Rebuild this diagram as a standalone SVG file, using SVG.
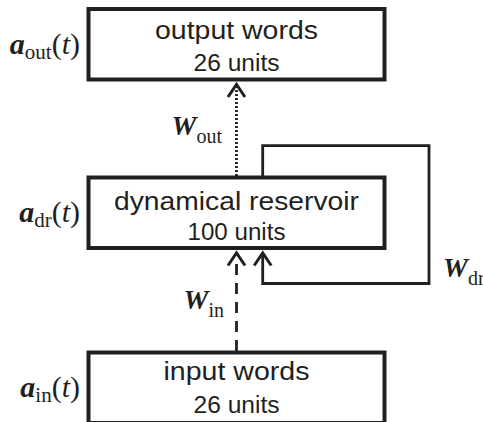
<svg xmlns="http://www.w3.org/2000/svg" width="483" height="422" viewBox="0 0 483 422">
  <style>
    .box { fill: #fff; stroke: #231f20; stroke-width: 4; }
    .title { font-family: "Liberation Sans", Arial, sans-serif; font-size: 26px; fill: #231f20; text-anchor: middle; }
    .units { font-family: "Liberation Sans", Arial, sans-serif; font-size: 23px; fill: #231f20; text-anchor: middle; }
    .math { font-family: "Liberation Serif", "Times New Roman", serif; font-size: 30px; fill: #231f20; }
    .wlab { font-size: 28px; }
    .vec { font-weight: bold; font-style: italic; }
    .it { font-style: italic; }
    .sub { font-size: 21px; }
    .wlab .sub { font-size: 20px; }
    .wire { fill: none; stroke: #231f20; stroke-width: 2.8; }
    .head { fill: none; stroke: #231f20; stroke-width: 3; stroke-linejoin: miter; }
  </style>

  <!-- connectors -->
  <g id="connectors">
    <!-- W_out: dotted readout -->
    <line class="wire" x1="236.5" y1="176" x2="236.5" y2="86" stroke-width="3" stroke-dasharray="2 2"/>
    <polyline class="head" points="228,97 236.5,84.5 245,97"/>
    <!-- W_in: dashed input -->
    <line class="wire" x1="236.5" y1="351" x2="236.5" y2="256" stroke-width="3" stroke-dasharray="11 8"/>
    <polyline class="head" points="228,265.5 236.5,253 245,265.5"/>
    <!-- W_dr: recurrent loop -->
    <path class="wire" d="M262.7,176 V145.7 H429 V283.5 H262.7 V255"/>
    <polyline class="head" points="254.2,265.5 262.7,253 271.2,265.5"/>
  </g>

  <g id="output">
    <rect class="box" x="88.5" y="9" width="296" height="70.5"/>
    <text class="title" x="236.5" y="39" textLength="163" lengthAdjust="spacingAndGlyphs">output words</text>
    <text class="units" x="236.5" y="70.5" textLength="86" lengthAdjust="spacingAndGlyphs">26 units</text>
    <text class="math" x="80" y="54" text-anchor="end"><tspan class="vec">a</tspan><tspan class="sub" dy="5">out</tspan><tspan dy="-5">(</tspan><tspan class="it">t</tspan>)</text>
  </g>

  <g id="reservoir">
    <rect class="box" x="88.5" y="177.5" width="296" height="70.5"/>
    <text class="title" x="236.5" y="209.5" textLength="245" lengthAdjust="spacingAndGlyphs">dynamical reservoir</text>
    <text class="units" x="236.5" y="240" textLength="98" lengthAdjust="spacingAndGlyphs">100 units</text>
    <text class="math" x="80" y="222" text-anchor="end"><tspan class="vec">a</tspan><tspan class="sub" dy="5">dr</tspan><tspan dy="-5">(</tspan><tspan class="it">t</tspan>)</text>
  </g>

  <g id="input">
    <rect class="box" x="88.5" y="352.5" width="296" height="70.5"/>
    <text class="title" x="236.5" y="380" textLength="146" lengthAdjust="spacingAndGlyphs">input words</text>
    <text class="units" x="236.5" y="413" textLength="86" lengthAdjust="spacingAndGlyphs">26 units</text>
    <text class="math" x="80" y="397" text-anchor="end"><tspan class="vec">a</tspan><tspan class="sub" dy="5">in</tspan><tspan dy="-5">(</tspan><tspan class="it">t</tspan>)</text>
  </g>

  <!-- weight labels -->
  <g id="labels">
    <text class="math wlab" x="222" y="135" text-anchor="end"><tspan class="vec">W</tspan><tspan class="sub" dy="8">out</tspan></text>
    <text class="math wlab" x="224" y="309" text-anchor="end"><tspan class="vec">W</tspan><tspan class="sub" dy="8">in</tspan></text>
    <text class="math wlab" x="443" y="277"><tspan class="vec">W</tspan><tspan class="sub" dy="8">dr</tspan></text>
  </g>
</svg>
